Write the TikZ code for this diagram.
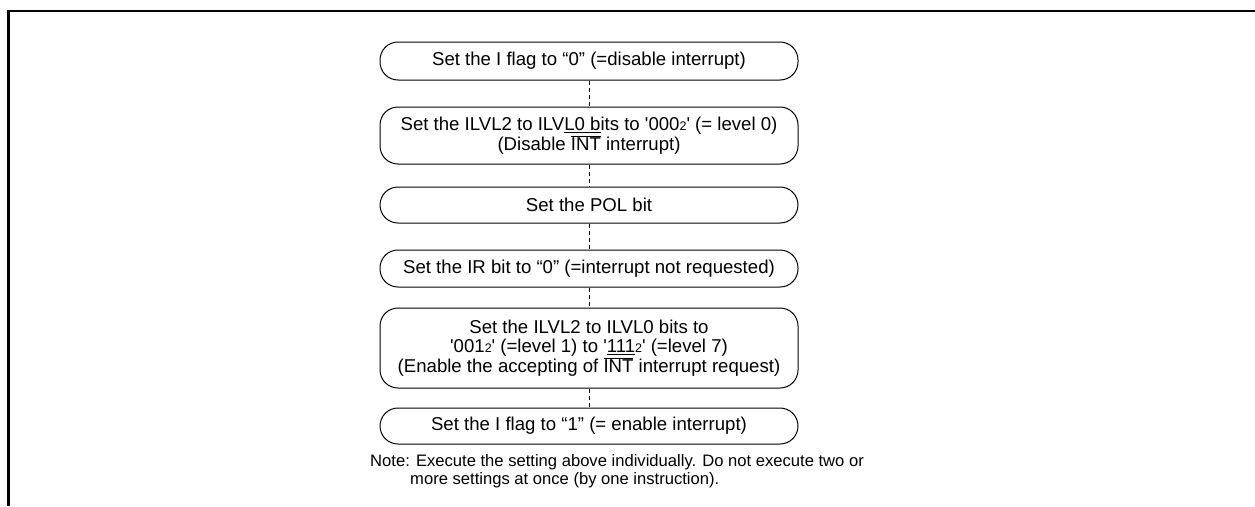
\documentclass[tikz,border=0pt]{standalone}
\usepackage{fontspec}
\setmainfont{Liberation Sans}
\usetikzlibrary{positioning}
\newcommand{\subtwo}{{\fontsize{12.5}{12.5}\selectfont 2}}
\newcommand{\ovl}[1]{$\overline{\hbox{#1}}$}
\newcommand{\sq}{\textquotesingle}

\begin{document}
\begin{tikzpicture}[x=1pt, y=-1pt,
  stepbox/.style={draw, line width=1pt, rounded corners=18pt, minimum width=418pt,
    align=center, inner sep=2pt, font=\fontsize{18.6}{19.8}\selectfont},
  link/.style={line width=1pt, dash pattern=on 4pt off 3pt}]
\useasboundingbox (0,0) rectangle (1255,506);
% frame
\draw[line width=2.5pt] (8.5,506) -- (8.5,11) -- (1255,11);

% steps
\node[stepbox, minimum height=38pt] (iflag0) at (589,61) {Set the I flag to “0” (=disable interrupt)};
\node[stepbox, minimum height=57pt] (lvl0) at (589,135.5) {Set the ILVL2 to ILV\underline{L0 b}its to \sq000\subtwo\sq{} (= level 0)\\(Disable \ovl{INT} interrupt)};
\node[stepbox, minimum height=36pt] (pol) at (589,205) {Set the POL bit};
\node[stepbox, minimum height=37pt] (irbit) at (589,268.5) {Set the IR bit to “0” (=interrupt not requested)};
\node[stepbox, minimum height=80pt] (lvlset) at (589,348) {Set the ILVL2 to ILVL0 bits to\\\sq001\subtwo\sq{} (=level 1) to \sq\underline{111}\subtwo\sq{} (=level 7)\\(Enable the accepting of \ovl{INT} interrupt request)};
\node[stepbox, minimum height=36pt] (iflag1) at (589,426) {Set the I flag to “1” (= enable interrupt)};

% dotted links
\draw[link] (iflag0) -- (lvl0);
\draw[link] (lvl0) -- (pol);
\draw[link] (pol) -- (irbit);
\draw[link] (irbit) -- (lvlset);
\draw[link] (lvlset) -- (iflag1);

% note
\node[anchor=north west, align=left, inner sep=0pt, font=\fontsize{16.6}{18.5}\selectfont] (note) at (370,454)
  {Note: Execute the setting above individually. Do not execute two or\\\hspace*{40pt}more settings at once (by one instruction).};
\end{tikzpicture}
\end{document}
